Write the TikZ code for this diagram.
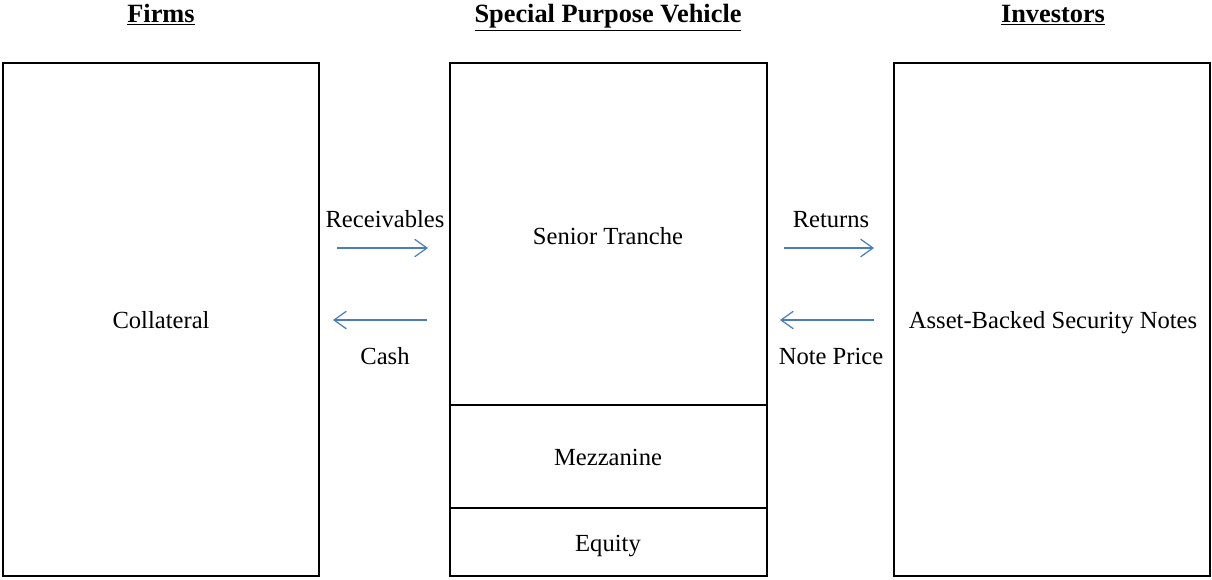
\documentclass[tikz,border=0pt]{standalone}
\usepackage{fontspec}
\setmainfont{Liberation Serif}
\usetikzlibrary{arrows.meta}
\tikzset{
  box/.style={draw, line width=1pt},
  head/.style={anchor=base, font=\fontsize{15}{18}\selectfont\bfseries},
  lbl/.style={anchor=base, font=\fontsize{14}{17}\selectfont},
  flow/.style={draw=arrowblue, line width=0.7pt, -{Straight Barb[length=7pt,width=10pt]}}
}
\definecolor{arrowblue}{HTML}{4A7EBB}
\begin{document}
\begin{tikzpicture}[x=0.02cm, y=-0.02cm]
    \useasboundingbox (0,0) rectangle (1212,579);
    % column headings
    \node[head] (firms) at (161,22) {\underline{Firms}};
    \node[head] (spv) at (608,22) {\underline{Special Purpose Vehicle}};
    \node[head] (inv) at (1053,22) {\underline{Investors}};
    % the three boxes
    \draw[box] (3,63) rectangle (319,576);
    \draw[box] (450,63) rectangle (767,576);
    \draw[box] (894,63) rectangle (1210,576);
    \draw[box] (450,405) -- (767,405);
    \draw[box] (450,508) -- (767,508);
    \node[lbl] (coll) at (161,328) {Collateral};
    \node[lbl] (senior) at (608,244) {Senior Tranche};
    \node[lbl] (mezz) at (608,465) {Mezzanine};
    \node[lbl] (eq) at (608,551) {Equity};
    \node[lbl] (abs) at (1053,328) {Asset-Backed Security Notes};
    % flows between firms and the SPV
    \coordinate (r1) at (337,248);
    \coordinate (r2) at (428,248);
    \coordinate (c1) at (427,320);
    \coordinate (c2) at (333,320);
    \draw[flow] (r1) -- (r2);
    \draw[flow] (c1) -- (c2);
    \node[lbl] (recv) at (385,227) {Receivables};
    \node[lbl] (cash) at (385,364) {Cash};
    % flows between the SPV and investors
    \coordinate (t1) at (784,248);
    \coordinate (t2) at (874,248);
    \coordinate (p1) at (874,320);
    \coordinate (p2) at (780,320);
    \draw[flow] (t1) -- (t2);
    \draw[flow] (p1) -- (p2);
    \node[lbl] (ret) at (831,227) {Returns};
    \node[lbl] (price) at (831,364) {Note Price};
\end{tikzpicture}
\end{document}
